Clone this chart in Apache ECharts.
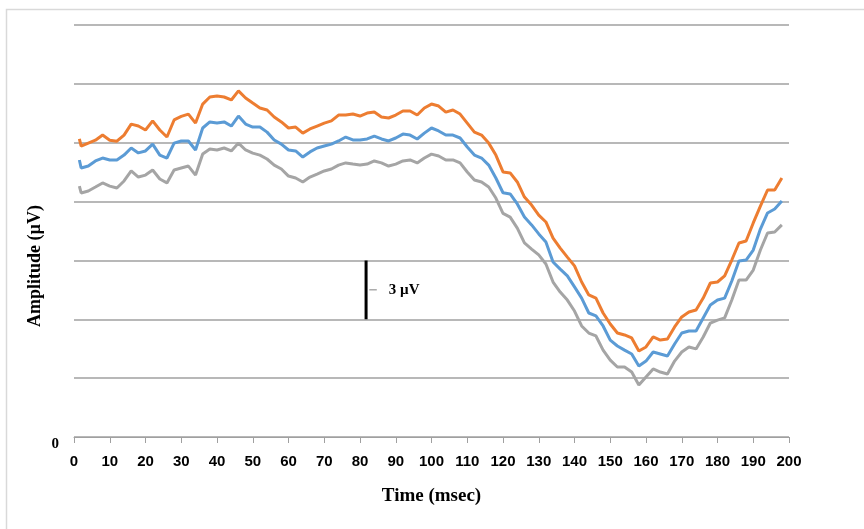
<!DOCTYPE html>
<html>
<head>
<meta charset="utf-8">
<style>
  html, body { margin: 0; padding: 0; background: #fff; }
  #chart { width: 864px; height: 529px; }
</style>
<script src="https://cdn.jsdelivr.net/npm/echarts@6/dist/echarts.min.js"></script>
</head>
<body>
<div id="chart"></div>
<script>
// Sample times (ms)
const timeMs = [1.5, 2, 4, 6, 8, 10, 12, 14, 16, 18, 20, 22, 24, 26, 28, 30, 32, 34, 36, 38, 40,
  42, 44, 46, 48, 50, 52, 54, 56, 58, 60, 62, 64, 66, 68, 70, 72, 74, 76, 78, 80,
  82, 84, 86, 88, 90, 92, 94, 96, 98, 100, 102, 104, 106, 108, 110, 112, 114, 116, 118, 120,
  122, 124, 126, 128, 130, 132, 134, 136, 138, 140, 142, 144, 146, 148, 150, 152, 154, 156, 158, 160,
  162, 164, 166, 168, 170, 172, 174, 176, 178, 180, 182, 184, 186, 188, 190, 192, 194, 196, 198];

// Waveform amplitudes (µV), top trace
const orangeTrace = [15.19, 14.83, 14.98, 15.13, 15.39, 15.13, 15.08, 15.39, 15.95, 15.85, 15.65,
  16.11, 15.65, 15.29, 16.16, 16.34, 16.46, 16.00, 16.97, 17.33, 17.38,
  17.33, 17.18, 17.64, 17.28, 17.02, 16.77, 16.67, 16.31, 16.06, 15.75,
  15.80, 15.49, 15.70, 15.85, 16.00, 16.11, 16.41, 16.41, 16.46, 16.36,
  16.51, 16.56, 16.31, 16.26, 16.41, 16.62, 16.62, 16.41, 16.77, 16.97,
  16.87, 16.56, 16.67, 16.46, 16.00, 15.54, 15.39, 14.98, 14.37, 13.51,
  13.46, 13.00, 12.23, 11.82, 11.31, 10.96, 10.14, 9.63, 9.17, 8.72,
  7.90, 7.24, 7.08, 6.32, 5.76, 5.30, 5.20, 5.05, 4.38, 4.59,
  5.10, 4.94, 4.99, 5.61, 6.12, 6.37, 6.47, 7.08, 7.85, 7.90,
  8.21, 9.02, 9.89, 9.99, 10.91, 11.77, 12.59, 12.59, 13.20];

// Middle trace
const blueTrace = [14.12, 13.71, 13.81, 14.07, 14.22, 14.12, 14.12, 14.37, 14.73, 14.48, 14.58,
  14.93, 14.37, 14.22, 14.98, 15.09, 15.09, 14.63, 15.75, 16.06, 16.01,
  16.06, 15.85, 16.36, 15.95, 15.80, 15.80, 15.54, 15.14, 14.93, 14.63,
  14.58, 14.27, 14.53, 14.73, 14.83, 14.93, 15.09, 15.29, 15.14, 15.14,
  15.19, 15.34, 15.19, 15.09, 15.24, 15.44, 15.39, 15.19, 15.49, 15.75,
  15.60, 15.39, 15.39, 15.24, 14.78, 14.37, 14.22, 13.86, 13.20, 12.45,
  12.39, 11.88, 11.21, 10.81, 10.35, 9.94, 8.92, 8.56, 8.21, 7.65,
  7.08, 6.32, 6.17, 5.66, 4.94, 4.64, 4.43, 4.23, 3.62, 3.87,
  4.33, 4.23, 4.13, 4.74, 5.30, 5.40, 5.40, 6.07, 6.73, 6.98,
  7.08, 7.95, 8.97, 9.02, 9.53, 10.60, 11.42, 11.62, 12.03];

// Bottom trace
const grayTrace = [12.79, 12.44, 12.54, 12.74, 12.95, 12.79, 12.69, 13.05, 13.56, 13.25, 13.35,
  13.61, 13.15, 12.95, 13.61, 13.71, 13.81, 13.35, 14.42, 14.68, 14.63,
  14.73, 14.58, 14.98, 14.63, 14.47, 14.37, 14.17, 13.86, 13.66, 13.30,
  13.20, 13.00, 13.25, 13.40, 13.56, 13.66, 13.86, 13.97, 13.91, 13.86,
  13.91, 14.07, 13.97, 13.81, 13.91, 14.07, 14.12, 13.97, 14.22, 14.42,
  14.32, 14.12, 14.12, 13.97, 13.51, 13.10, 13.00, 12.74, 12.18, 11.40,
  11.21, 10.65, 9.89, 9.58, 9.28, 8.82, 7.90, 7.39, 6.98, 6.42,
  5.66, 5.30, 5.15, 4.43, 3.92, 3.57, 3.57, 3.31, 2.65, 3.06,
  3.47, 3.31, 3.21, 3.87, 4.33, 4.59, 4.49, 5.10, 5.81, 5.96,
  6.07, 6.98, 8.00, 8.00, 8.51, 9.53, 10.40, 10.45, 10.81];

// Calibration bar: 3 µV at t ≈ 81.7 ms
const scaleBarTime = 81.7;
const scaleBarRange = [6, 9];
const scaleBarLabel = '3 \u00b5V';

// Axis settings
const xRange = [0, 200];
const xStep = 10;
const yRange = [0, 21];
const yStep = 3;

const pairs = (vals) => timeMs.map((t, i) => [t, vals[i]]);

const traceLine = (name, vals, color) => ({
  name, type: 'line', data: pairs(vals), showSymbol: false, silent: true,
  lineStyle: { color, width: 3 }, itemStyle: { color }, z: 3
});

const chart = echarts.init(document.getElementById('chart'), null, { renderer: 'canvas' });

const barMid = (scaleBarRange[0] + scaleBarRange[1]) / 2;

chart.setOption({
  animation: false,
  backgroundColor: '#ffffff',
  grid: { left: 74, right: 75, top: 25, bottom: 92 },
  xAxis: {
    type: 'value', min: xRange[0], max: xRange[1], interval: xStep,
    name: 'Time (msec)', nameLocation: 'middle', nameGap: 50,
    nameTextStyle: { fontFamily: 'Liberation Serif', fontWeight: 'bold', fontSize: 19, color: '#000' },
    axisLine: { show: true, lineStyle: { color: '#a0a0a0', width: 1 } },
    axisTick: { show: true, length: 6, lineStyle: { color: '#a0a0a0' } },
    axisLabel: { margin: 17, fontFamily: 'Liberation Sans', fontWeight: 'bold', fontSize: 15, color: '#000' },
    splitLine: { show: false }
  },
  yAxis: {
    type: 'value', min: yRange[0], max: yRange[1], interval: yStep,
    axisLine: { show: false },
    axisTick: { show: false },
    axisLabel: {
      margin: 15, fontFamily: 'Liberation Serif', fontWeight: 'bold', fontSize: 15, color: '#000',
      verticalAlign: 'top',
      formatter: (v) => (v === 0 ? '0' : '')
    },
    splitLine: { show: true, lineStyle: { color: '#a0a0a0', width: 1.5 } }
  },
  series: [
    traceLine('gray', grayTrace, '#a5a5a5'),
    traceLine('blue', blueTrace, '#5b9bd5'),
    traceLine('orange', orangeTrace, '#ed7d31'),
    {
      name: 'scale', type: 'line', silent: true, showSymbol: false, z: 4,
      data: [[scaleBarTime, scaleBarRange[0]], [scaleBarTime, scaleBarRange[1]]],
      lineStyle: { color: '#000', width: 3 }
    },
    {
      name: 'scaleTick', type: 'line', silent: true, showSymbol: false, z: 4,
      data: [[scaleBarTime + 0.9, barMid], [scaleBarTime + 3, barMid]],
      lineStyle: { color: '#808080', width: 1 },
      endLabel: {
        show: true, formatter: scaleBarLabel, distance: 12,
        fontFamily: 'Liberation Serif', fontWeight: 'bold', fontSize: 15, color: '#000'
      }
    }
  ],
  graphic: [
    {
      type: 'rect', silent: true, z: -1,
      shape: { x: 6.5, y: 9.5, width: 900, height: 600 },
      style: { fill: null, stroke: '#d9d9d9', lineWidth: 1.5 }
    },
    {
      type: 'text', silent: true,
      x: 35.5, y: 266, rotation: Math.PI / 2,
      style: {
        text: 'Amplitude (\u00b5V)', fontFamily: 'Liberation Serif', fontWeight: 'bold',
        fontSize: 18, fill: '#000', align: 'center', verticalAlign: 'middle'
      }
    }
  ]
});
</script>
</body>
</html>
